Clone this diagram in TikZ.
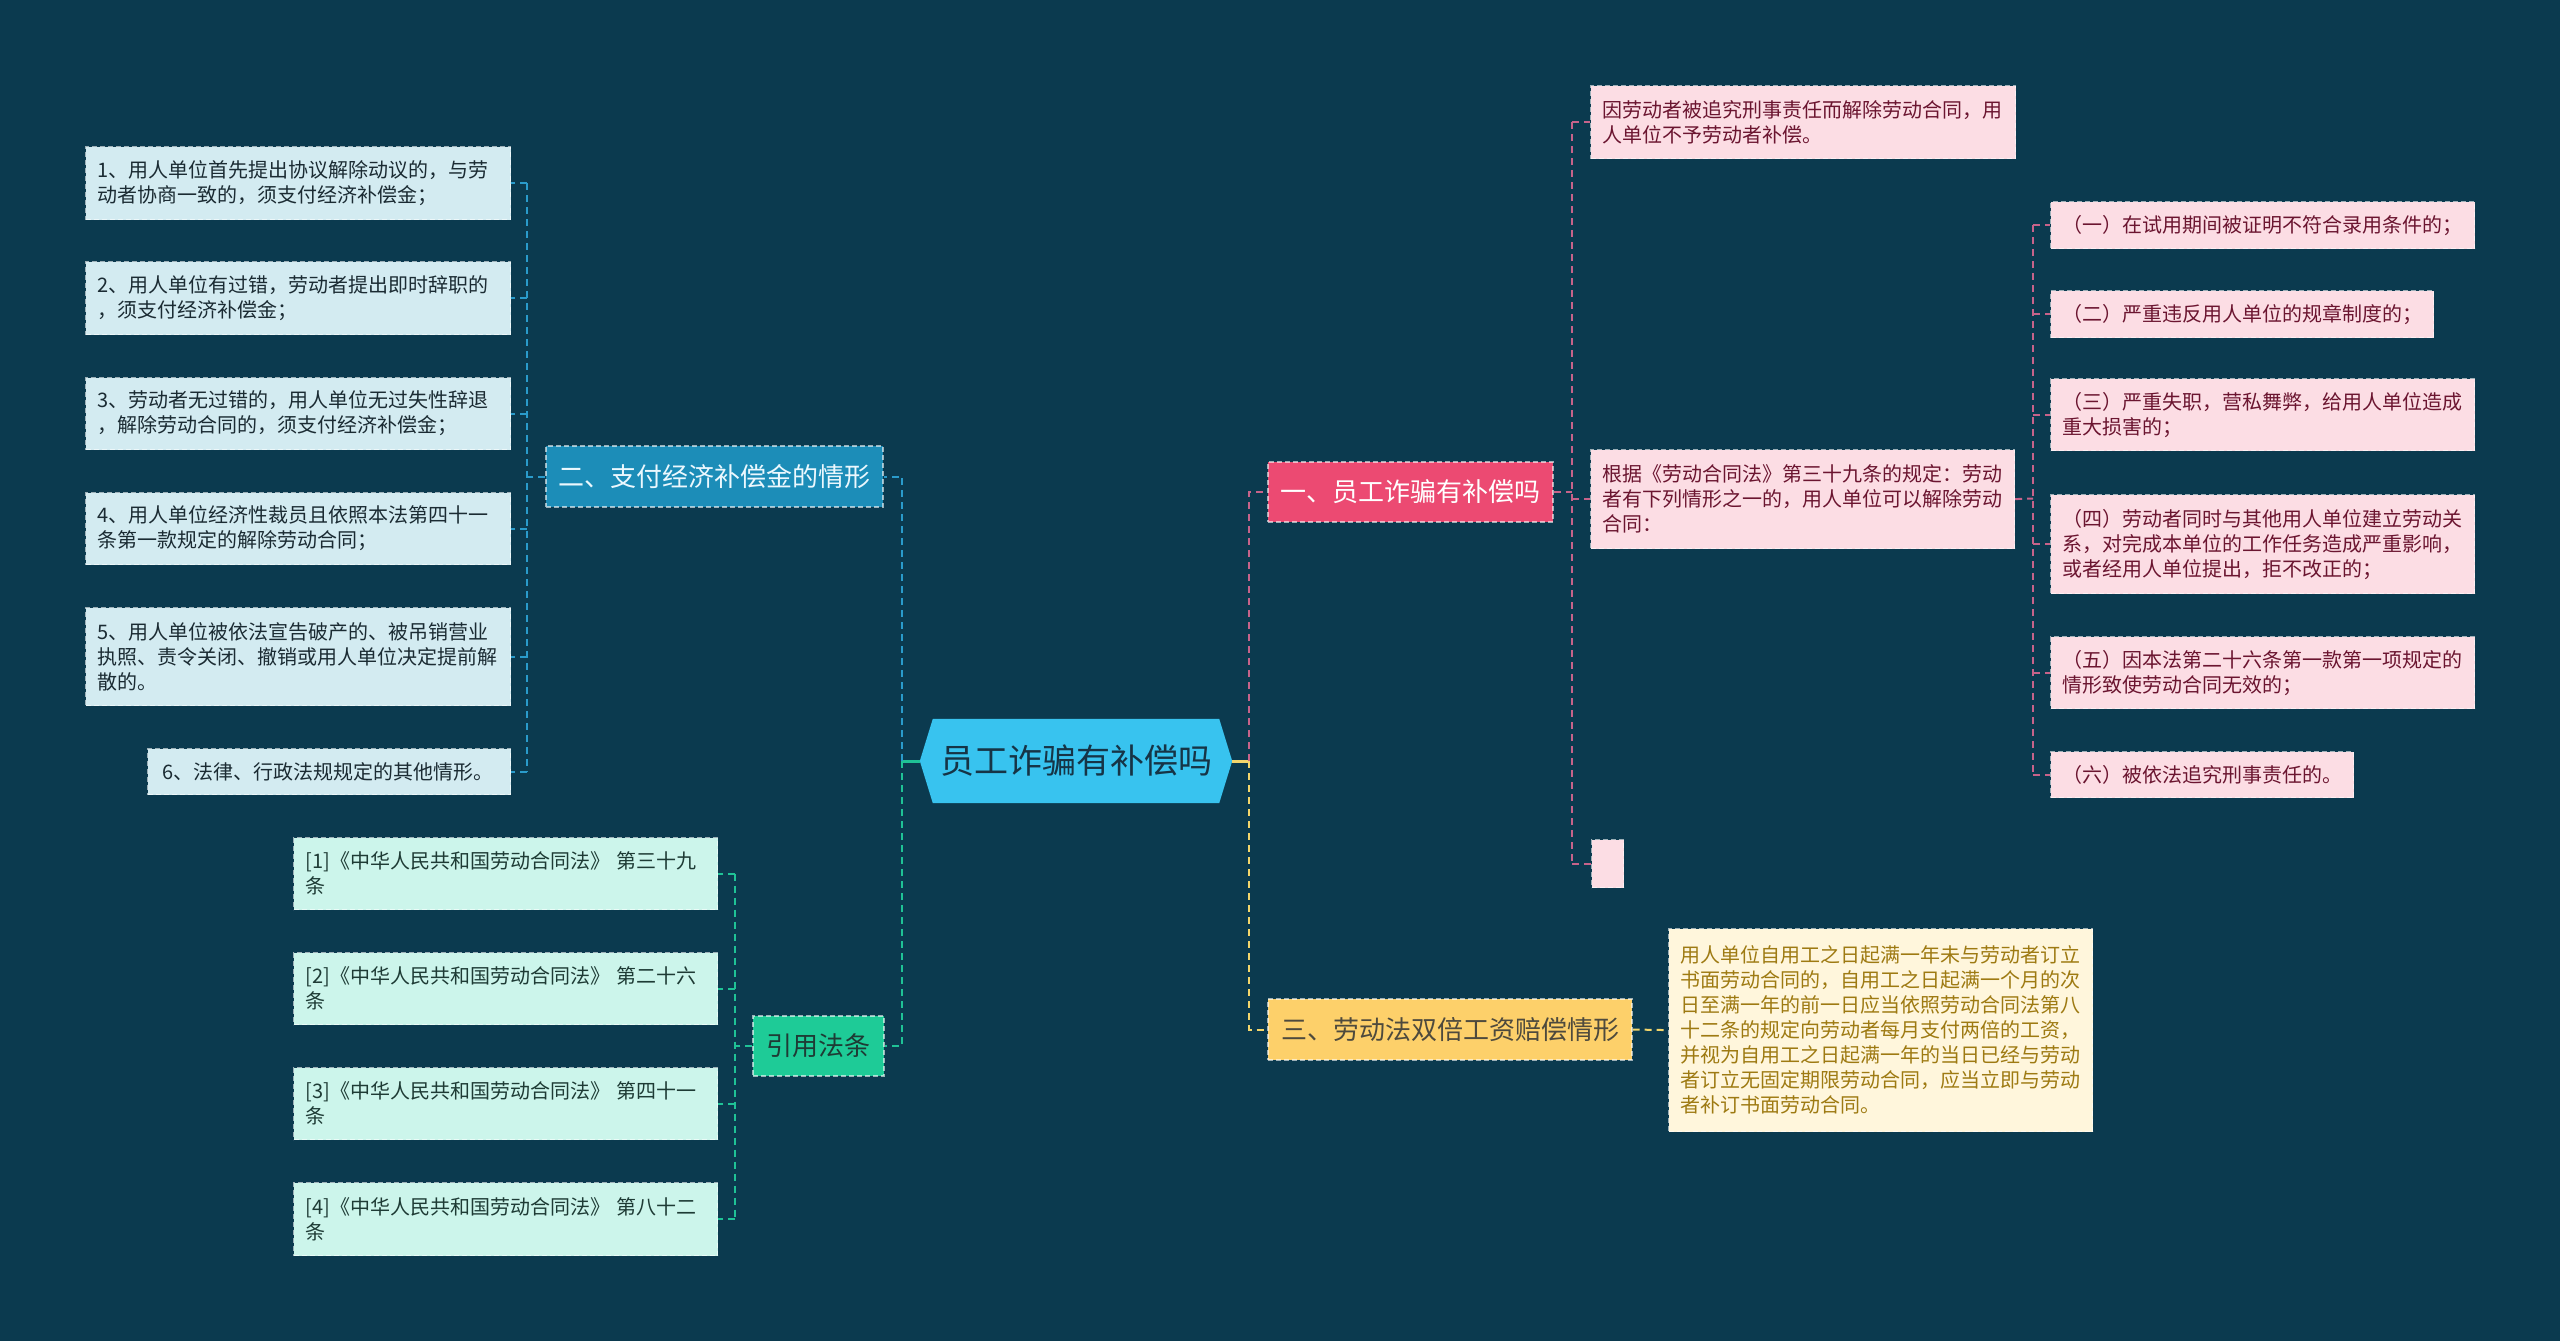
\documentclass[tikz,border=0pt]{standalone}
\usepackage{fontspec}
\setmainfont{Noto Sans CJK SC}
\usetikzlibrary{backgrounds}
\definecolor{bgc}{HTML}{0B3A4F}
\definecolor{rootfill}{HTML}{38C3EF}
\definecolor{roottext}{HTML}{163446}
\definecolor{bonefill}{HTML}{EC4A72}
\definecolor{btwofill}{HTML}{1C8DB8}
\definecolor{bthreefill}{HTML}{FDD06A}
\definecolor{bfourfill}{HTML}{1ECB97}
\definecolor{leafblue}{HTML}{D3EBF1}
\definecolor{leafgreen}{HTML}{CCF5EB}
\definecolor{leafpink}{HTML}{FCDDE4}
\definecolor{leafyellow}{HTML}{FFF6DC}
\definecolor{txtblue}{HTML}{1B2B33}
\definecolor{txtgreen}{HTML}{1E3B35}
\definecolor{txtpink}{HTML}{6B1530}
\definecolor{txtyellow}{HTML}{9E7A12}
\definecolor{linkblue}{HTML}{2A9BCB}
\definecolor{linkpink}{HTML}{C7638A}
\definecolor{linkgreen}{HTML}{1FC296}
\definecolor{linkyellow}{HTML}{F3D66C}
\begin{document}
\begin{tikzpicture}[x=1pt,y=-1pt,
  boxborder/.style={draw=white, draw opacity=0.6, line width=1.2pt, dash pattern=on 5pt off 3pt},
  branch/.style={rectangle, boxborder, inner sep=0pt, font=\fontsize{26}{30}\selectfont},
  leaf/.style={rectangle, boxborder, anchor=north west, inner xsep=12pt, inner ysep=0pt, align=left, font=\fontsize{20}{25}\selectfont},
  bleaf/.style={leaf, fill=leafblue, text=txtblue},
  gleaf/.style={leaf, fill=leafgreen, text=txtgreen},
  pleaf/.style={leaf, fill=leafpink, text=txtpink},
  yleaf/.style={leaf, fill=leafyellow, text=txtyellow},
  conn/.style={line width=2pt, dash pattern=on 7pt off 5pt},
  lblue/.style={conn, draw=linkblue},
  lpink/.style={conn, draw=linkpink},
  lgreen/.style={conn, draw=linkgreen},
  lyellow/.style={conn, draw=linkyellow},
  solidG/.style={line width=3pt, draw=linkgreen},
  solidY/.style={line width=3pt, draw=linkyellow}
]
\useasboundingbox (0,0) rectangle (2560,1341);

% root
\node[rectangle, inner sep=0pt, minimum width=312pt, minimum height=84pt, text=roottext,
      font=\fontsize{34}{38}\selectfont] (root) at (1076,761) {员工诈骗有补偿吗};

% branches
\node[branch, fill=bonefill, text=white, minimum width=285pt, minimum height=60pt] (b1) at (1410.5,492) {一、员工诈骗有补偿吗};
\node[branch, fill=btwofill, text=white!92!cyan, minimum width=337pt, minimum height=61pt] (b2) at (714.5,476.5) {二、支付经济补偿金的情形};
\node[branch, fill=bthreefill, text=black!80!yellow, minimum width=364pt, minimum height=61pt] (b3) at (1450,1029.5) {三、劳动法双倍工资赔偿情形};
\node[branch, fill=bfourfill, text=txtgreen, minimum width=131pt, minimum height=60pt] (b4) at (818.5,1046) {引用法条};

% blue leaves
\node[bleaf, text width=401pt, minimum height=73pt] (l1) at (85,146) {1、用人单位首先提出协议解除动议的，与劳\\动者协商一致的，须支付经济补偿金；};
\node[bleaf, text width=401pt, minimum height=73pt] (l2) at (85,261) {2、用人单位有过错，劳动者提出即时辞职的\\，须支付经济补偿金；};
\node[bleaf, text width=401pt, minimum height=72pt] (l3) at (85,377) {3、劳动者无过错的，用人单位无过失性辞退\\，解除劳动合同的，须支付经济补偿金；};
\node[bleaf, text width=401pt, minimum height=72pt] (l4) at (85,492) {4、用人单位经济性裁员且依照本法第四十一\\条第一款规定的解除劳动合同；};
\node[bleaf, text width=401pt, minimum height=98pt] (l5) at (85,607) {5、用人单位被依法宣告破产的、被吊销营业\\执照、责令关闭、撤销或用人单位决定提前解\\散的。};
\node[bleaf, inner xsep=15pt, text width=333pt, minimum height=46pt] (l6) at (147,748) {6、法律、行政法规规定的其他情形。};

% green leaves
\node[gleaf, text width=400pt, minimum height=72pt] (g1) at (293,837) {[1]《中华人民共和国劳动合同法》 第三十九\\条};
\node[gleaf, text width=400pt, minimum height=72pt] (g2) at (293,952) {[2]《中华人民共和国劳动合同法》 第二十六\\条};
\node[gleaf, text width=400pt, minimum height=72pt] (g3) at (293,1067) {[3]《中华人民共和国劳动合同法》 第四十一\\条};
\node[gleaf, text width=400pt, minimum height=73pt] (g4) at (293,1182) {[4]《中华人民共和国劳动合同法》 第八十二\\条};

% pink leaves
\node[pleaf, text width=401pt, minimum height=73pt] (p0) at (1590,85) {因劳动者被追究刑事责任而解除劳动合同，用\\人单位不予劳动者补偿。};
\node[pleaf, text width=400pt, minimum height=99pt] (p1) at (1590,449) {根据《劳动合同法》第三十九条的规定：劳动\\者有下列情形之一的，用人单位可以解除劳动\\合同：};
\node[rectangle, boxborder, fill=leafpink, anchor=north west, inner sep=0pt, minimum width=32pt, minimum height=48pt] (pe) at (1591,839) {};

\node[pleaf, text width=400pt, minimum height=47pt] (q1) at (2050,201) {（一）在试用期间被证明不符合录用条件的；};
\node[pleaf, text width=359pt, minimum height=47pt] (q2) at (2050,290) {（二）严重违反用人单位的规章制度的；};
\node[pleaf, text width=400pt, minimum height=72pt] (q3) at (2050,378) {（三）严重失职，营私舞弊，给用人单位造成\\重大损害的；};
\node[pleaf, text width=400pt, minimum height=99pt] (q4) at (2050,494) {（四）劳动者同时与其他用人单位建立劳动关\\系，对完成本单位的工作任务造成严重影响，\\或者经用人单位提出，拒不改正的；};
\node[pleaf, text width=400pt, minimum height=72pt] (q5) at (2050,636) {（五）因本法第二十六条第一款第一项规定的\\情形致使劳动合同无效的；};
\node[pleaf, text width=279pt, minimum height=46pt] (q6) at (2050,751) {（六）被依法追究刑事责任的。};

% yellow leaf
\node[yleaf, text width=400pt, minimum height=203pt] (y3) at (1668,928) {用人单位自用工之日起满一年未与劳动者订立\\书面劳动合同的，自用工之日起满一个月的次\\日至满一年的前一日应当依照劳动合同法第八\\十二条的规定向劳动者每月支付两倍的工资，\\并视为自用工之日起满一年的当日已经与劳动\\者订立无固定期限劳动合同，应当立即与劳动\\者补订书面劳动合同。};

\begin{pgfonlayer}{background}
\fill[bgc] (0,0) rectangle (2560,1341);
\fill[rootfill] (root.west) -- ([xshift=13pt]root.north west) -- ([xshift=-13pt]root.north east)
  -- (root.east) -- ([xshift=-13pt]root.south east) -- ([xshift=13pt]root.south west) -- cycle;

\coordinate (jl) at (902,761);
\coordinate (jr) at (1249,761);
\draw[solidG] (root.west) -- (jl);
\draw[solidY] (root.east) -- (jr);
\draw[lblue] (jl) |- (b2.east);
\draw[lgreen] (jl) |- (b4.east);
\draw[lpink] (jr) |- (b1.west);
\draw[lyellow] (jr) |- (b3.west);

% blue
\coordinate (bx) at (527,476.5);
\draw[lblue] (b2.west) -- (bx);
\draw[lblue] (bx |- l1.east) -- (bx |- l6.east);
\foreach \n in {l1,l2,l3,l4,l5,l6} \draw[lblue] (bx |- \n.east) -- (\n.east);

% green
\coordinate (gx) at (735,1046);
\draw[lgreen] (b4.west) -- (gx);
\draw[lgreen] (gx |- g1.east) -- (gx |- g4.east);
\foreach \n in {g1,g2,g3,g4} \draw[lgreen] (gx |- \n.east) -- (\n.east);

% pink
\coordinate (px) at (1572,492);
\draw[lpink] (b1.east) -- (px);
\draw[lpink] (px |- p0.west) -- (px |- pe.west);
\foreach \n in {p0,p1,pe} \draw[lpink] (px |- \n.west) -- (\n.west);
\coordinate (qx) at (2033,498.5);
\draw[lpink] (p1.east) -- (qx);
\draw[lpink] (qx |- q1.west) -- (qx |- q6.west);
\foreach \n in {q1,q2,q3,q4,q5,q6} \draw[lpink] (qx |- \n.west) -- (\n.west);

% yellow
\draw[lyellow] (b3.east) -- (y3.west);
\end{pgfonlayer}
\end{tikzpicture}
\end{document}
